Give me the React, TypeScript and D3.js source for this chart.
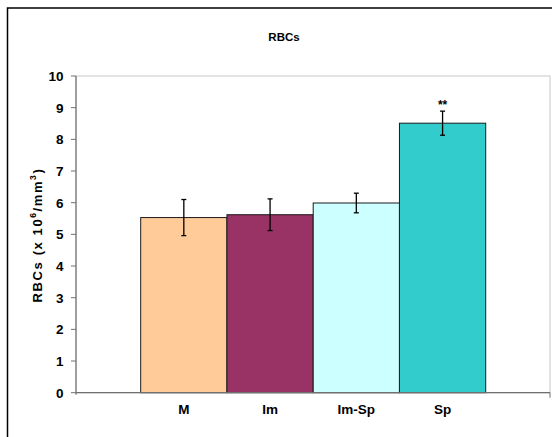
import React from "react";
import * as d3 from "d3";

// Group means and error bar half-widths (RBC count, x10^6/mm^3)
const categories = ["M", "Im", "Im-Sp", "Sp"];
const means = [5.53, 5.62, 5.99, 8.51];
const errors = [0.57, 0.5, 0.31, 0.38];
const significance = ["", "", "", "**"];
const yTicks = [0, 1, 2, 3, 4, 5, 6, 7, 8, 9, 10];
const barColors = ["#FFCC99", "#993366", "#CCFFFF", "#33CCCC"];

const W = 552;
const H = 437;
const plot = { left: 76, right: 550, top: 76, bottom: 392.7 };
const barsLeft = 140.7;
const barsRight = 485.7;
const FONT = "'Liberation Sans', Arial, sans-serif";

export default function App() {
  const y = d3.scaleLinear().domain([0, 10]).range([plot.bottom, plot.top]);
  const x = d3
    .scaleBand<string>()
    .domain(categories)
    .range([barsLeft, barsRight])
    .padding(0);
  const bw = x.bandwidth();

  return (
    <svg
      width={W}
      height={H}
      style={{ position: "absolute", left: 0, top: 0, background: "#fff" }}
      fontFamily={FONT}
    >
      {/* chart frame */}
      <rect x={7.5} y={8} width={700} height={700} fill="#fff" stroke="#000" strokeWidth={1.5} />

      {/* plot area outline */}
      <rect
        x={plot.left}
        y={plot.top}
        width={plot.right - plot.left}
        height={plot.bottom - plot.top}
        fill="none"
        stroke="#c8c8c8"
        strokeWidth={1}
      />

      <text x={284} y={40.5} textAnchor="middle" fontSize={11.5} fontWeight="bold">
        RBCs
      </text>

      {/* bars */}
      {categories.map((c, i) => (
        <rect
          key={c}
          x={x(c)}
          y={y(means[i])}
          width={bw}
          height={y(0) - y(means[i])}
          fill={barColors[i]}
          stroke="#1a1a1a"
          strokeWidth={1}
        />
      ))}

      {/* error bars */}
      {categories.map((c, i) => {
        const cx = (x(c) as number) + bw / 2;
        const top = y(means[i] + errors[i]);
        const bot = y(means[i] - errors[i]);
        return (
          <g key={c} stroke="#000" strokeWidth={1.3}>
            <line x1={cx} x2={cx} y1={top} y2={bot} />
            <line x1={cx - 2.5} x2={cx + 2.5} y1={top} y2={top} />
            <line x1={cx - 2.5} x2={cx + 2.5} y1={bot} y2={bot} />
          </g>
        );
      })}

      {/* significance marks */}
      {categories.map((c, i) =>
        significance[i] ? (
          <text
            key={c}
            x={(x(c) as number) + bw / 2}
            y={y(means[i] + errors[i]) - 2}
            textAnchor="middle"
            fontSize={12}
            fontWeight="bold"
          >
            {significance[i]}
          </text>
        ) : null
      )}

      {/* y axis */}
      <line x1={plot.left} x2={plot.left} y1={plot.top} y2={plot.bottom + 2} stroke="#707070" strokeWidth={1.2} />
      {yTicks.map((t) => (
        <g key={t}>
          <line x1={plot.left - 5} x2={plot.left} y1={y(t)} y2={y(t)} stroke="#707070" strokeWidth={1} />
          <text
            x={plot.left - 12.5}
            y={y(t)}
            dy="0.36em"
            textAnchor="end"
            fontSize={13.5}
            fontWeight="bold"
          >
            {t}
          </text>
        </g>
      ))}

      {/* x axis */}
      <line x1={plot.left} x2={plot.right} y1={plot.bottom} y2={plot.bottom} stroke="#707070" strokeWidth={1.2} />
      <line x1={plot.right} x2={plot.right} y1={plot.bottom} y2={plot.bottom + 5} stroke="#707070" strokeWidth={1} />
      {categories.map((c) => (
        <text
          key={c}
          x={(x(c) as number) + bw / 2}
          y={414}
          textAnchor="middle"
          fontSize={13.5}
          fontWeight="bold"
        >
          {c}
        </text>
      ))}

      {/* y axis title */}
      <text
        transform={`translate(41.5, ${235}) rotate(-90)`}
        textAnchor="middle"
        fontSize={13}
        fontWeight="bold"
        letterSpacing={1.6}
      >
        RBCs (x 10
        <tspan dy={-5.5} fontSize={8.5}>6</tspan>
        <tspan dy={5.5}>/mm</tspan>
        <tspan dy={-5.5} fontSize={8.5}>3</tspan>
        <tspan dy={5.5}>)</tspan>
      </text>
    </svg>
  );
}
